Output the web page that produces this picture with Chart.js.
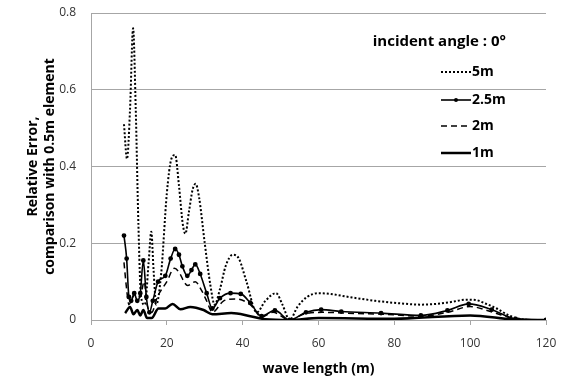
<!DOCTYPE html>
<html>
<head>
<meta charset="utf-8">
<script src="https://cdn.jsdelivr.net/npm/chart.js@4"></script>
<style>
    html, body { margin: 0; padding: 0; background: #fff; }
    #wrap { width: 563px; height: 381px; }
</style>
</head>
<body>
<div id="wrap"><canvas id="chart" width="563" height="381"></canvas></div>
<script>
// wave length (m) / relative error
const x5m = [8.7, 9.5, 10.3, 11.1, 11.8, 12.5, 13.2, 14.2, 15.2, 15.9, 16.5, 17.2, 18.5, 20, 21.2, 22.2, 23.2, 24.2, 24.9, 25.8, 26.8, 27.6, 28.5, 30, 31.5, 32.6, 34, 35.5, 37.4, 39, 41, 43.7, 46, 48.8, 50.5, 52.4, 54.5, 57, 60, 63, 68, 75, 82, 87, 91, 95, 99, 101.5, 104, 107, 110, 113, 116, 120];
const y5m = [0.51, 0.42, 0.55, 0.76, 0.55, 0.25, 0.06, 0.04, 0.15, 0.23, 0.13, 0.04, 0.12, 0.33, 0.42, 0.43, 0.35, 0.25, 0.225, 0.28, 0.34, 0.355, 0.32, 0.2, 0.09, 0.04, 0.08, 0.14, 0.17, 0.16, 0.1, 0.02, 0.05, 0.07, 0.04, 0.0, 0.035, 0.06, 0.07, 0.068, 0.06, 0.05, 0.043, 0.04, 0.042, 0.047, 0.053, 0.052, 0.043, 0.03, 0.013, 0.003, 0.0, 0.0];

const x25m = [8.7, 9.4, 10, 10.6, 11.4, 12.2, 13, 13.8, 14.6, 15.4, 16.3, 17.7, 19.6, 21, 22.2, 23.2, 24.1, 25.4, 26.5, 27.5, 28.8, 30.5, 32, 34, 36.8, 39.5, 42, 45, 48.5, 52.4, 56.7, 60.7, 66, 76.5, 87, 94, 99.6, 105.7, 112, 120];
const y25m = [0.22, 0.16, 0.06, 0.05, 0.07, 0.05, 0.07, 0.155, 0.06, 0.02, 0.05, 0.1, 0.115, 0.16, 0.185, 0.17, 0.14, 0.115, 0.13, 0.145, 0.12, 0.07, 0.03, 0.057, 0.07, 0.068, 0.045, 0.01, 0.025, 0.0, 0.02, 0.027, 0.022, 0.018, 0.012, 0.025, 0.042, 0.027, 0.003, 0.0];

const x2m = [8.7, 9.4, 10, 11, 12, 13, 14, 14.8, 16, 17.5, 20, 22, 23.5, 24.5, 25.5, 27.5, 29, 30.5, 32, 35, 38, 42, 45, 48, 52.4, 56, 61, 70, 77, 87, 94, 100, 106, 112, 120];
const y2m = [0.15, 0.08, 0.04, 0.06, 0.07, 0.06, 0.1, 0.04, 0.02, 0.06, 0.1, 0.135, 0.12, 0.1, 0.09, 0.1, 0.08, 0.05, 0.02, 0.05, 0.055, 0.04, 0.008, 0.02, 0.0, 0.015, 0.02, 0.017, 0.015, 0.01, 0.02, 0.035, 0.02, 0.003, 0.0];

const x1m = [9, 10.3, 11.2, 12.2, 13, 13.8, 14.8, 16, 17.8, 19.6, 21.5, 23.6, 26.2, 29.7, 32, 37, 42, 46, 52.4, 60, 80, 100, 112, 120];
const y1m = [0.018, 0.034, 0.015, 0.026, 0.012, 0.026, 0.005, 0.005, 0.03, 0.03, 0.042, 0.028, 0.034, 0.026, 0.015, 0.018, 0.01, 0.002, 0.0, 0.005, 0.003, 0.012, 0.001, 0.0];

const seriesNames = ['5m', '2.5m', '2m', '1m'];
const legendTitle = 'incident angle : 0°';
const xTicks = [0, 20, 40, 60, 80, 100, 120];
const yTicks = [0, 0.2, 0.4, 0.6, 0.8];

const FONT = "'Open Sans', 'Noto Sans', sans-serif";

function toPoints(xs, ys) {
    return xs.map((x, i) => ({ x: x, y: ys[i] }));
}

// legend drawn inside the plot, like the Excel original
const insideLegend = {
    id: 'insideLegend',
    afterDraw(chart) {
        const ctx = chart.ctx;
        ctx.save();
        ctx.fillStyle = '#000';
        ctx.textBaseline = 'middle';
        ctx.font = 'bold 15px ' + FONT;
        ctx.textAlign = 'right';
        ctx.fillText(legendTitle, 506, 42);

        const rows = [72, 100, 126, 153];
        chart.data.datasets.forEach((ds, i) => {
            const y = rows[i];
            ctx.strokeStyle = '#000';
            ctx.lineWidth = ds.borderWidth;
            ctx.setLineDash(ds.borderDash || []);
            ctx.beginPath();
            ctx.moveTo(441, y);
            ctx.lineTo(471, y);
            ctx.stroke();
            ctx.setLineDash([]);
            if (ds.pointRadius > 0) {
                ctx.fillStyle = '#000';
                ctx.beginPath();
                ctx.arc(456, y, 2, 0, Math.PI * 2);
                ctx.fill();
            }
            ctx.fillStyle = '#000';
            ctx.textAlign = 'left';
            ctx.font = 'bold 14px ' + FONT;
            ctx.fillText(ds.label, 472, y);
        });
        ctx.restore();
    }
};

new Chart(document.getElementById('chart'), {
    type: 'line',
    data: {
        datasets: [
            {
                label: seriesNames[0],
                data: toPoints(x5m, y5m),
                borderColor: '#000',
                borderWidth: 2,
                borderDash: [2, 2],
                pointRadius: 0,
                cubicInterpolationMode: 'monotone'
            },
            {
                label: seriesNames[1],
                data: toPoints(x25m, y25m),
                borderColor: '#000',
                backgroundColor: '#000',
                borderWidth: 1.6,
                pointRadius: 1.6,
                pointStyle: 'circle',
                cubicInterpolationMode: 'monotone'
            },
            {
                label: seriesNames[2],
                data: toPoints(x2m, y2m),
                borderColor: '#000',
                borderWidth: 1.5,
                borderDash: [6, 4],
                pointRadius: 0,
                cubicInterpolationMode: 'monotone'
            },
            {
                label: seriesNames[3],
                data: toPoints(x1m, y1m),
                borderColor: '#000',
                borderWidth: 2.5,
                pointRadius: 0,
                cubicInterpolationMode: 'monotone'
            }
        ]
    },
    options: {
        responsive: false,
        animation: false,
        layout: { padding: { top: 13, right: 17, left: 21, bottom: 0 } },
        plugins: {
            legend: { display: false },
            tooltip: { enabled: false }
        },
        scales: {
            x: {
                type: 'linear',
                min: 0,
                max: 120,
                afterBuildTicks: scale => { scale.ticks = xTicks.map(v => ({ value: v })); },
                afterFit: scale => {
                    scale.height = 61;
                    scale.paddingRight = 4;
                },
                grid: {
                    drawOnChartArea: false,
                    drawTicks: true,
                    tickLength: 5,
                    color: '#a6a6a6'
                },
                border: { color: '#a6a6a6', width: 1 },
                ticks: {
                    color: '#333',
                    font: { family: FONT, size: 12 },
                    padding: 11,
                    maxRotation: 0
                },
                title: {
                    display: true,
                    text: 'wave length (m)',
                    color: '#000',
                    font: { family: FONT, size: 14, weight: 'bold' },
                    padding: { top: 0 }
                }
            },
            y: {
                min: 0,
                max: 0.8,
                afterBuildTicks: scale => { scale.ticks = yTicks.map(v => ({ value: v })); },
                afterFit: scale => {
                    scale.width = 70;
                    // tick padding would otherwise push the plot top down
                    scale.paddingTop = 8;
                    scale.paddingBottom = 8;
                },
                grid: {
                    drawTicks: false,
                    color: '#a6a6a6'
                },
                border: { color: '#a6a6a6', width: 1 },
                ticks: {
                    color: '#333',
                    font: { family: FONT, size: 12 },
                    padding: 15,
                    callback: v => v === 0 ? '0' : v.toFixed(1)
                },
                title: {
                    display: true,
                    text: ['Relative Error,', 'comparison with 0.5m element'],
                    color: '#000',
                    font: { family: FONT, size: 14, weight: 'bold' },
                    padding: { bottom: 0 }
                }
            }
        }
    },
    plugins: [insideLegend]
});
</script>
</body>
</html>
